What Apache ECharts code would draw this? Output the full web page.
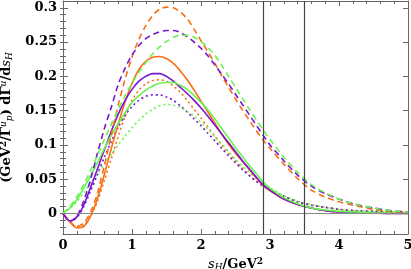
<!DOCTYPE html>
<html>
<head>
<meta charset="utf-8">
<script src="https://cdn.jsdelivr.net/npm/echarts@6/dist/echarts.min.js"></script>
<style>
html,body{margin:0;padding:0;background:#fff;}
#c{width:411px;height:269px;}
</style>
</head>
<body>
<div id="c"></div>
<script>
// s_H values (GeV^2)
const sH = [0,0.1,0.2,0.3,0.4,0.5,0.6,0.7,0.8,0.9,1.0,1.1,1.2,1.3,1.4,1.5,1.6,1.7,1.8,1.9,2.0,2.1,2.2,2.3,2.4,2.5,2.6,2.7,2.8,2.9,3.0,3.2,3.4,3.6,3.8,4.0,4.25,4.5,4.75,5.0];

// dashed curves
const orangeDashed = [0,-0.012,-0.019,-0.014,0.002,0.03,0.07,0.115,0.158,0.196,0.228,0.254,0.274,0.289,0.298,0.301,0.300,0.294,0.284,0.269,0.252,0.236,0.219,0.201,0.184,0.167,0.151,0.136,0.121,0.107,0.095,0.072,0.051,0.034,0.024,0.017,0.011,0.006,0.003,0.001];
const purpleDashed = [0,-0.011,-0.004,0.018,0.05,0.088,0.124,0.155,0.188,0.212,0.231,0.245,0.255,0.261,0.265,0.267,0.267,0.264,0.258,0.250,0.241,0.230,0.217,0.203,0.189,0.174,0.159,0.144,0.129,0.114,0.100,0.077,0.056,0.040,0.029,0.021,0.013,0.008,0.004,0.002];
const greenDashed = [0,0.010,0.024,0.042,0.063,0.085,0.108,0.130,0.152,0.172,0.190,0.206,0.220,0.233,0.243,0.251,0.257,0.260,0.260,0.257,0.251,0.242,0.231,0.216,0.200,0.184,0.168,0.152,0.137,0.122,0.108,0.082,0.060,0.042,0.030,0.021,0.013,0.008,0.004,0.002];

// solid curves
const orangeSolid = [0,-0.012,-0.021,-0.019,-0.004,0.022,0.057,0.095,0.130,0.163,0.190,0.210,0.222,0.228,0.229,0.226,0.219,0.208,0.195,0.180,0.164,0.148,0.132,0.116,0.101,0.088,0.076,0.064,0.052,0.041,0.033,0.021,0.013,0.008,0.004,0.002,0.001,0.0005,0,0];
const purpleSolid = [0,-0.011,-0.005,0.012,0.038,0.065,0.093,0.120,0.145,0.165,0.181,0.193,0.200,0.204,0.204,0.200,0.193,0.184,0.175,0.165,0.154,0.142,0.129,0.116,0.103,0.090,0.077,0.065,0.053,0.042,0.034,0.021,0.013,0.008,0.004,0.002,0.001,0.0005,0,0];
const greenSolid = [0,0.008,0.020,0.037,0.055,0.074,0.095,0.114,0.131,0.147,0.162,0.172,0.180,0.186,0.190,0.191,0.191,0.187,0.181,0.172,0.162,0.151,0.138,0.124,0.110,0.096,0.083,0.070,0.058,0.046,0.037,0.023,0.014,0.008,0.005,0.003,0.002,0.001,0.0005,0];

// dotted curves
const orangeDotted = [0,-0.012,-0.020,-0.017,-0.004,0.018,0.048,0.080,0.112,0.142,0.165,0.180,0.189,0.194,0.195,0.193,0.186,0.177,0.165,0.152,0.139,0.126,0.113,0.100,0.088,0.077,0.066,0.056,0.047,0.040,0.034,0.025,0.017,0.012,0.009,0.006,0.004,0.003,0.002,0.001];
const purpleDotted = [0,-0.011,-0.006,0.010,0.033,0.057,0.082,0.105,0.126,0.143,0.156,0.165,0.171,0.173,0.173,0.170,0.165,0.157,0.148,0.138,0.128,0.117,0.106,0.095,0.084,0.074,0.064,0.055,0.047,0.040,0.034,0.025,0.017,0.012,0.009,0.006,0.004,0.003,0.002,0.001];
const greenDotted = [0,0.007,0.017,0.030,0.044,0.058,0.072,0.086,0.100,0.113,0.125,0.136,0.145,0.152,0.157,0.159,0.158,0.155,0.149,0.142,0.133,0.123,0.112,0.101,0.090,0.079,0.069,0.060,0.051,0.044,0.037,0.026,0.018,0.013,0.009,0.006,0.004,0.003,0.002,0.001];

const vLines = [2.9, 3.5];
const yTicks = [0, 0.05, 0.1, 0.15, 0.2, 0.25, 0.3];
const yMinorTicks = [-0.02,-0.01,0,0.01,0.02,0.03,0.04,0.05,0.06,0.07,0.08,0.09,0.1,0.11,0.12,0.13,0.14,0.15,0.16,0.17,0.18,0.19,0.2,0.21,0.22,0.23,0.24,0.25,0.26,0.27,0.28,0.29,0.3];

const ORANGE = '#F96E14', PURPLE = '#7814D2', GREEN = '#6AF250';
const FONT = 'DejaVu Serif';
const AXC = '#666';

function pairs(ys){ return sH.map((x,i)=>[x, ys[i]]); }

function mk(name, ys, color, type){
  return {
    name, type:'line', data: pairs(ys), smooth:0.3, symbol:'none',
    lineStyle:{color, width:1.6, type: type},
    z: 3
  };
}
const DASH = [6,4], DOT = [2,3];

const yMin = -0.03, yMax = 0.31;

const chart = echarts.init(document.getElementById('c'), null, {renderer:'canvas'});
const baseX = {type:'value', min:0, max:5, interval:1, gridIndex:0};
const baseY = {type:'value', min:yMin, max:yMax, gridIndex:0};

const richStyles = {
  s:{fontFamily:FONT, fontStyle:'italic', fontSize:13, color:'#000', lineHeight:15},
  sub:{fontFamily:FONT, fontStyle:'italic', fontSize:9, color:'#000', verticalAlign:'bottom', lineHeight:15},
  n:{fontFamily:FONT, fontWeight:'bold', fontSize:13, color:'#000', lineHeight:15},
  sup:{fontFamily:FONT, fontWeight:'bold', fontSize:9, color:'#000', verticalAlign:'top', lineHeight:15},
  supi:{fontFamily:FONT, fontStyle:'italic', fontSize:9, color:'#000', verticalAlign:'top', lineHeight:15}
};

chart.setOption({
  animation:false,
  backgroundColor:'#fff',
  grid:{left:63, right:3, top:1, bottom:35, containLabel:false, outerBoundsMode:'none'},
  xAxis:[
    Object.assign({}, baseX, {
      position:'bottom',
      axisLine:{show:true, onZero:false, lineStyle:{color:AXC, width:1}},
      axisTick:{show:true, inside:true, length:5, lineStyle:{color:AXC}},
      minorTick:{show:true, splitNumber:5, length:3, lineStyle:{color:AXC}},
      axisLabel:{show:true, color:'#000', fontFamily:FONT, fontWeight:'bold', fontSize:13, margin:5},
      splitLine:{show:false},
      name:'{s|s}{sub|H}{n|/GeV}{sup|2}', nameLocation:'middle', nameGap:19,
      nameTextStyle:{rich:richStyles}
    }),
    Object.assign({}, baseX, {
      position:'top',
      axisLine:{show:true, onZero:false, lineStyle:{color:AXC, width:1}},
      axisTick:{show:true, inside:true, length:5, lineStyle:{color:AXC}},
      minorTick:{show:true, splitNumber:5, length:3, lineStyle:{color:AXC}},
      axisLabel:{show:false}, splitLine:{show:false}
    })
  ],
  yAxis:[
    Object.assign({}, baseY, {
      position:'left',
      axisLine:{show:true, onZero:false, lineStyle:{color:AXC, width:1}},
      axisTick:{show:true, inside:true, length:5, customValues:yTicks, lineStyle:{color:AXC}},
      axisLabel:{show:true, customValues:yTicks, color:'#000', fontFamily:FONT, fontWeight:'bold', fontSize:13, margin:6,
        formatter:v=>String(+v.toFixed(2))},
      splitLine:{show:false},
      name:'{n|(GeV}{sup|2}{n|/Γ}{supi|u}{sub|p}{n|) dΓ}{supi|u}{n|/d}{s|s}{sub|H}',
      nameLocation:'middle', nameRotate:90, nameGap:44,
      nameTextStyle:{rich:richStyles}
    }),
    Object.assign({}, baseY, {
      position:'left',
      axisLine:{show:false},
      axisTick:{show:true, inside:true, length:3, customValues:yMinorTicks, lineStyle:{color:AXC}},
      axisLabel:{show:false}, splitLine:{show:false}
    }),
    Object.assign({}, baseY, {
      position:'right',
      axisLine:{show:true, onZero:false, lineStyle:{color:AXC, width:1}},
      axisTick:{show:true, inside:true, length:5, customValues:yTicks, lineStyle:{color:AXC}},
      axisLabel:{show:false}, splitLine:{show:false}
    }),
    Object.assign({}, baseY, {
      position:'right',
      axisLine:{show:false},
      axisTick:{show:true, inside:true, length:3, customValues:yMinorTicks, lineStyle:{color:AXC}},
      axisLabel:{show:false}, splitLine:{show:false}
    })
  ],
  series:[
    {
      type:'line', data:[], symbol:'none', silent:true,
      markLine:{
        symbol:'none', silent:true, label:{show:false}, animation:false,
        data:[
          {yAxis:0, lineStyle:{color:'#888', width:1, type:'solid'}},
          ...vLines.map(v=>({xAxis:v, lineStyle:{color:'#444', width:1.2, type:'solid'}}))
        ]
      }
    },
    mk('orange dotted', orangeDotted, ORANGE, DOT),
    mk('purple dotted', purpleDotted, PURPLE, DOT),
    mk('green dotted', greenDotted, GREEN, DOT),
    mk('orange solid', orangeSolid, ORANGE, 'solid'),
    mk('purple solid', purpleSolid, PURPLE, 'solid'),
    mk('green solid', greenSolid, GREEN, 'solid'),
    mk('orange dashed', orangeDashed, ORANGE, DASH),
    mk('purple dashed', purpleDashed, PURPLE, DASH),
    mk('green dashed', greenDashed, GREEN, DASH)
  ]
});
</script>
</body>
</html>
